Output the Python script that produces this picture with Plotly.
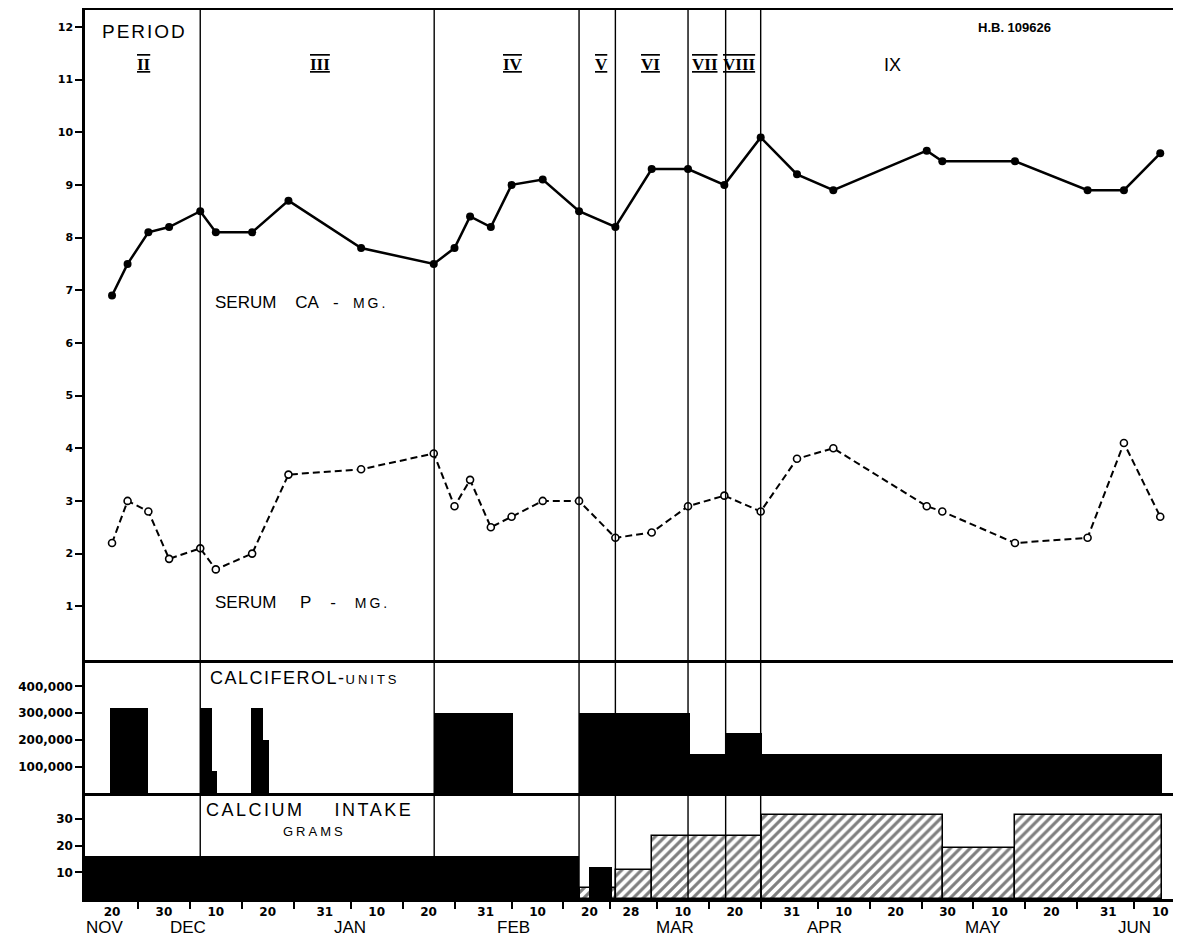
import pandas as pd
import plotly.graph_objects as go
from plotly.subplots import make_subplots

# ---------------- data ----------------
sample_dates = ["1948-11-20", "1948-11-23", "1948-11-27", "1948-12-01", "1948-12-07",
                "1948-12-10", "1948-12-17", "1948-12-24", "1949-01-07", "1949-01-21",
                "1949-01-25", "1949-01-28", "1949-02-01", "1949-02-05", "1949-02-11",
                "1949-02-18", "1949-02-25", "1949-03-04", "1949-03-11", "1949-03-18",
                "1949-03-25", "1949-04-01", "1949-04-08", "1949-04-26", "1949-04-29",
                "1949-05-13", "1949-05-27", "1949-06-03", "1949-06-10"]
serum_ca = [6.9, 7.5, 8.1, 8.2, 8.5, 8.1, 8.1, 8.7, 7.8, 7.5, 7.8, 8.4, 8.2, 9.0, 9.1,
            8.5, 8.2, 9.3, 9.3, 9.0, 9.9, 9.2, 8.9, 9.65, 9.45, 9.45, 8.9, 8.9, 9.6]
serum_p = [2.2, 3.0, 2.8, 1.9, 2.1, 1.7, 2.0, 3.5, 3.6, 3.9, 2.9, 3.4, 2.5, 2.7, 3.0,
           3.0, 2.3, 2.4, 2.9, 3.1, 2.8, 3.8, 4.0, 2.9, 2.8, 2.2, 2.3, 4.1, 2.7]

calciferol_start = ["1948-11-19 14:00", "1948-12-07 00:00", "1948-12-09 06:00",
                    "1948-12-16 19:00", "1948-12-19 00:00", "1949-01-21 02:00",
                    "1949-02-17 22:00", "1949-03-11 07:00", "1949-03-18 06:00",
                    "1949-03-25 07:00"]
calciferol_end = ["1948-11-27 00:00", "1948-12-09 06:00", "1948-12-10 04:00",
                  "1948-12-19 00:00", "1948-12-20 05:00", "1949-02-05 07:00",
                  "1949-03-11 07:00", "1949-03-18 06:00", "1949-03-25 07:00",
                  "1949-06-10 10:00"]
calciferol_units = [320000, 320000, 85000, 320000, 200000, 300000, 300000, 150000,
                    225000, 150000]

calcium_solid_start = ["1948-11-14 00:00", "1949-02-19 20:00"]
calcium_solid_end = ["1949-02-18 00:00", "1949-02-24 07:00"]
calcium_solid_grams = [16, 12]

calcium_hatched_start = ["1949-02-18 06:00", "1949-02-25 02:00", "1949-03-04 02:00",
                         "1949-03-25 07:00", "1949-04-29 02:00", "1949-05-13 00:00"]
calcium_hatched_end = ["1949-02-25 02:00", "1949-03-04 02:00", "1949-03-25 07:00",
                       "1949-04-29 02:00", "1949-05-13 00:00", "1949-06-10 10:00"]
calcium_hatched_grams = [4, 11, 23.5, 31.5, 19, 31.5]

period_bounds = ["1948-12-07", "1949-01-21 02:00", "1949-02-18", "1949-02-25",
                 "1949-03-11", "1949-03-18 06:00", "1949-03-25"]
period_names = ["II", "III", "IV", "V", "VI", "VII", "VIII", "IX"]
period_label_dates = ["1948-11-26 05:00", "1948-12-30", "1949-02-05 07:00",
                      "1949-02-22 07:00", "1949-03-03 17:00", "1949-03-14 05:00",
                      "1949-03-20 22:00", "1949-04-19 10:00"]

tick_dates = ["1948-11-20", "1948-11-30", "1948-12-10", "1948-12-20", "1948-12-31",
              "1949-01-10", "1949-01-20", "1949-01-31", "1949-02-10", "1949-02-20",
              "1949-02-28", "1949-03-10", "1949-03-20", "1949-03-31", "1949-04-10",
              "1949-04-20", "1949-04-30", "1949-05-10", "1949-05-20", "1949-05-31",
              "1949-06-10"]
tick_labels = ["20", "30", "10", "20", "31", "10", "20", "31", "10", "20", "28", "10",
               "20", "31", "10", "20", "30", "10", "20", "31", "10"]
minor_tick_dates = ["1948-11-25", "1948-12-05", "1948-12-15", "1948-12-25", "1949-01-05",
                    "1949-01-15", "1949-01-25", "1949-02-05", "1949-02-15", "1949-02-24",
                    "1949-03-05", "1949-03-15", "1949-03-25", "1949-04-05", "1949-04-15",
                    "1949-04-25", "1949-05-05", "1949-05-15", "1949-05-25", "1949-06-05"]
month_names = ["NOV", "DEC", "JAN", "FEB", "MAR", "APR", "MAY", "JUN"]
month_label_dates = ["1948-11-18 17:00", "1948-12-04 17:00", "1949-01-04 22:00",
                     "1949-02-05 07:00", "1949-03-08 14:00", "1949-04-06 05:00",
                     "1949-05-06 19:00", "1949-06-05"]

serum_ticks = list(range(1, 13))
calciferol_ticks = [100000, 200000, 300000, 400000]
calciferol_tick_text = ["100,000", "200,000", "300,000", "400,000"]
calcium_ticks = [10, 20, 30]

x_range = ["1948-11-14 19:00", "1949-06-12 11:00"]


def widths_ms(starts, ends):
    s = pd.to_datetime(pd.Series(starts))
    e = pd.to_datetime(pd.Series(ends))
    return ((e - s).dt.total_seconds() * 1000).tolist()


FONT = "Liberation Sans"
BOLD = "DejaVu Sans"

fig = make_subplots(rows=3, cols=1, shared_xaxes=True, vertical_spacing=0,
                    row_heights=[650, 133, 106])

# serum lines
fig.add_trace(go.Scatter(
    x=sample_dates, y=serum_p, mode="lines+markers",
    line=dict(color="black", width=2, dash="7px,4px"),
    marker=dict(symbol="circle", size=7, color="white",
                line=dict(color="black", width=1.6)),
    showlegend=False, cliponaxis=False), row=1, col=1)
fig.add_trace(go.Scatter(
    x=sample_dates, y=serum_ca, mode="lines+markers",
    line=dict(color="black", width=2.5),
    marker=dict(symbol="circle", size=8, color="black"),
    showlegend=False, cliponaxis=False), row=1, col=1)

# calciferol
fig.add_trace(go.Bar(
    x=calciferol_start, y=calciferol_units,
    width=widths_ms(calciferol_start, calciferol_end), offset=0,
    marker=dict(color="black", line=dict(width=0)),
    showlegend=False), row=2, col=1)

# calcium intake
fig.add_trace(go.Bar(
    x=calcium_hatched_start, y=calcium_hatched_grams,
    width=widths_ms(calcium_hatched_start, calcium_hatched_end), offset=0,
    marker=dict(color="white", line=dict(color="black", width=1.5),
                pattern=dict(shape="/", fgcolor="black", bgcolor="white",
                             size=7, solidity=0.45)),
    showlegend=False), row=3, col=1)
fig.add_trace(go.Bar(
    x=calcium_solid_start, y=calcium_solid_grams,
    width=widths_ms(calcium_solid_start, calcium_solid_end), offset=0,
    marker=dict(color="black", line=dict(width=0)),
    showlegend=False), row=3, col=1)

# axes
fig.update_xaxes(type="date", range=x_range, showgrid=False, zeroline=False,
                 showline=True, linecolor="black", linewidth=3,
                 ticks="", showticklabels=False)
fig.update_xaxes(mirror=True, row=1, col=1)
fig.update_xaxes(showticklabels=True, tickmode="array", tickvals=tick_dates,
                 ticktext=tick_labels, ticks="outside", ticklen=0,
                 tickcolor="rgba(0,0,0,0)",
                 tickfont=dict(family=BOLD, size=12, color="black", weight="bold"),
                 minor=dict(tickmode="array", tickvals=minor_tick_dates,
                            ticks="outside", ticklen=7, tickwidth=2,
                            tickcolor="black", showgrid=False),
                 row=3, col=1)

fig.update_yaxes(showgrid=False, zeroline=False, showline=True, linecolor="black",
                 linewidth=2.5, ticks="outside", ticklen=7, tickwidth=2,
                 tickcolor="black", fixedrange=True)
fig.update_yaxes(range=[-0.02, 12.32], tickmode="array", tickvals=serum_ticks,
                 tickfont=dict(family=BOLD, size=11, color="black", weight="bold"),
                 row=1, col=1)
fig.update_yaxes(range=[3700, 498000], tickmode="array", tickvals=calciferol_ticks,
                 ticktext=calciferol_tick_text,
                 tickfont=dict(family=BOLD, size=12, color="black", weight="bold"),
                 row=2, col=1)
fig.update_yaxes(range=[0, 39.75], tickmode="array", tickvals=calcium_ticks,
                 tickfont=dict(family=BOLD, size=12, color="black", weight="bold"),
                 row=3, col=1)

# period boundaries
for d in period_bounds:
    fig.add_shape(type="line", xref="x", yref="paper", x0=d, x1=d, y0=0, y1=1,
                  line=dict(color="black", width=1.4), layer="above")

annotations = []
for name, d in zip(period_names, period_label_dates):
    if name == "IX":
        txt, fam, wt, sz = "IX", FONT, "normal", 18
    else:
        txt = ("<span style='text-decoration:overline underline;"
               "text-decoration-thickness:2px'>" + name + "</span>")
        fam, wt, sz = "Liberation Serif", "bold", 17
    annotations.append(dict(x=d, y=11.28, xref="x", yref="y", text=txt,
                            showarrow=False,
                            font=dict(family=fam, size=sz, color="black", weight=wt)))
annotations.append(dict(x="1948-11-26 05:00", y=11.92, xref="x", yref="y",
                        text="<span style='letter-spacing:2px'>PERIOD</span>",
                        showarrow=False,
                        font=dict(family=FONT, size=19, color="black")))
annotations.append(dict(x="1949-05-13", y=11.98, xref="x", yref="y",
                        text="H.B. 109626", showarrow=False,
                        font=dict(family=FONT, size=13, color="black", weight="bold")))
annotations.append(dict(x="1948-12-09 12:00", y=6.77, xref="x", yref="y",
                        xanchor="left",
                        text="SERUM&nbsp;&nbsp;&nbsp;&nbsp;CA&nbsp;&nbsp;&nbsp;-&nbsp;&nbsp;&nbsp;"
                             "<span style='font-size:14px;letter-spacing:3px'>MG.</span>",
                        showarrow=False,
                        font=dict(family=FONT, size=17, color="black")))
annotations.append(dict(x="1948-12-09 12:00", y=1.08, xref="x", yref="y",
                        xanchor="left",
                        text="SERUM&nbsp;&nbsp;&nbsp;&nbsp;&nbsp;P&nbsp;&nbsp;&nbsp;&nbsp;-&nbsp;&nbsp;&nbsp;&nbsp;"
                             "<span style='font-size:14px;letter-spacing:3px'>MG.</span>",
                        showarrow=False,
                        font=dict(family=FONT, size=17, color="black")))
annotations.append(dict(x="1948-12-08 12:00", y=431000, xref="x", yref="y2",
                        xanchor="left",
                        text="<span style='letter-spacing:1.5px'>CALCIFEROL-</span>"
                             "<span style='font-size:13px;letter-spacing:3px'>UNITS</span>",
                        showarrow=False,
                        font=dict(family=FONT, size=18, color="black")))
annotations.append(dict(x="1948-12-07 18:00", y=33.4, xref="x", yref="y3",
                        xanchor="left",
                        text="<span style='letter-spacing:2.5px'>CALCIUM&nbsp;&nbsp;&nbsp;&nbsp;INTAKE</span>",
                        showarrow=False,
                        font=dict(family=FONT, size=18, color="black")))
annotations.append(dict(x="1948-12-29", y=25.3, xref="x", yref="y3",
                        text="<span style='letter-spacing:3px'>GRAMS</span>",
                        showarrow=False,
                        font=dict(family=FONT, size=13, color="black")))
for name, d in zip(month_names, month_label_dates):
    annotations.append(dict(x=d, y=-0.0315, xref="x", yref="paper", yanchor="middle",
                            text=name, showarrow=False,
                            font=dict(family=FONT, size=17, color="black")))

fig.update_layout(width=1165, height=928, margin=dict(l=77, r=0, t=2, b=37),
                  paper_bgcolor="white", plot_bgcolor="white", barmode="overlay",
                  bargap=0, showlegend=False, annotations=annotations)

fig.write_html("out.html")
